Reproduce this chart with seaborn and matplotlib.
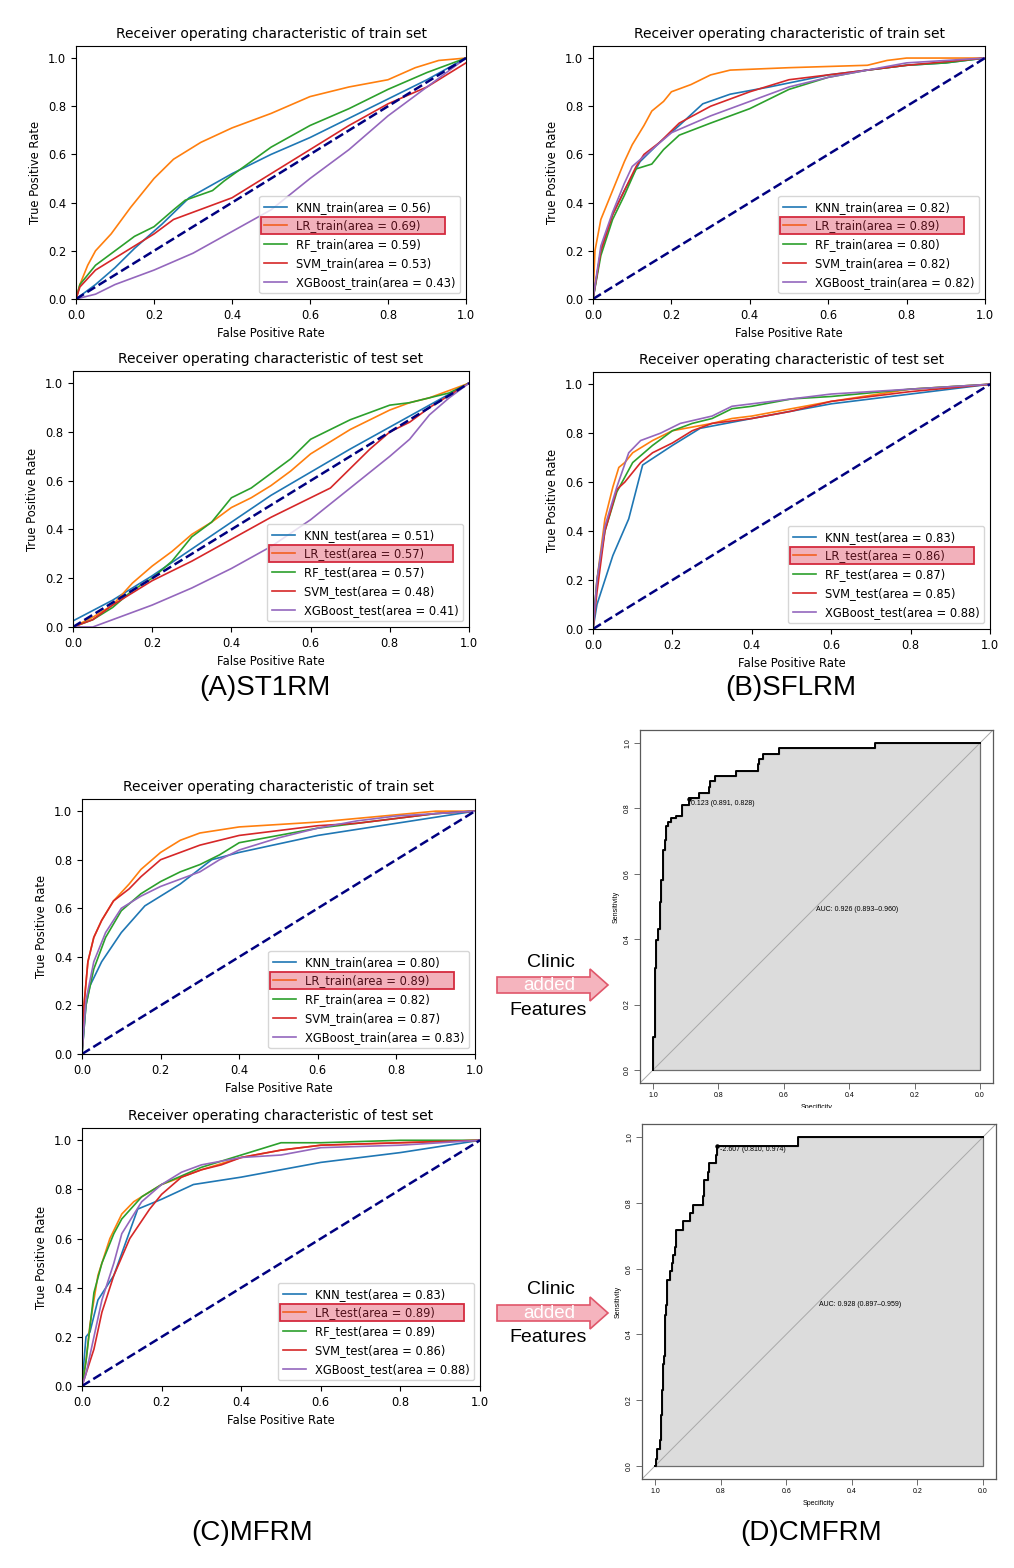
import pandas as pd
import seaborn as sns
import matplotlib.pyplot as plt
from matplotlib import patches
from matplotlib.transforms import Bbox

# ---- data ----
models = ['KNN', 'LR', 'RF', 'SVM', 'XGBoost']

auc_a_train = [0.56, 0.69, 0.59, 0.53, 0.43]
auc_a_test = [0.51, 0.57, 0.57, 0.48, 0.41]
auc_b_train = [0.82, 0.89, 0.80, 0.82, 0.82]
auc_b_test = [0.83, 0.86, 0.87, 0.85, 0.88]
auc_c_train = [0.80, 0.89, 0.82, 0.87, 0.83]
auc_c_test = [0.83, 0.89, 0.89, 0.86, 0.88]

# (A) train
a_train_knn_x = [0.0, 0.05, 0.10, 0.15, 0.22, 0.29, 0.40, 0.50, 0.60, 0.70, 0.80, 0.90, 1.0]
a_train_knn_y = [0.0, 0.06, 0.13, 0.21, 0.31, 0.42, 0.52, 0.60, 0.67, 0.75, 0.83, 0.91, 1.0]
a_train_lr_x = [0.0, 0.01, 0.03, 0.05, 0.09, 0.14, 0.20, 0.25, 0.32, 0.40, 0.50, 0.60, 0.70, 0.80, 0.87, 0.93, 1.0]
a_train_lr_y = [0.0, 0.06, 0.14, 0.20, 0.27, 0.38, 0.50, 0.58, 0.65, 0.71, 0.77, 0.84, 0.88, 0.91, 0.96, 0.99, 1.0]
a_train_rf_x = [0.0, 0.01, 0.05, 0.10, 0.15, 0.20, 0.25, 0.28, 0.35, 0.38, 0.50, 0.60, 0.70, 0.80, 0.90, 0.95, 1.0]
a_train_rf_y = [0.0, 0.06, 0.14, 0.20, 0.26, 0.30, 0.37, 0.41, 0.45, 0.49, 0.63, 0.72, 0.79, 0.87, 0.94, 0.97, 1.0]
a_train_svm_x = [0.0, 0.01, 0.05, 0.10, 0.15, 0.20, 0.25, 0.30, 0.40, 0.50, 0.60, 0.70, 0.80, 0.90, 0.97, 1.0]
a_train_svm_y = [0.0, 0.05, 0.12, 0.17, 0.22, 0.27, 0.33, 0.36, 0.42, 0.52, 0.62, 0.72, 0.81, 0.88, 0.95, 0.98]
a_train_xgb_x = [0.0, 0.05, 0.10, 0.20, 0.30, 0.40, 0.50, 0.60, 0.70, 0.80, 0.90, 1.0]
a_train_xgb_y = [0.0, 0.02, 0.06, 0.12, 0.19, 0.28, 0.37, 0.50, 0.62, 0.76, 0.88, 1.0]

# (A) test
a_test_knn_x = [0.0, 0.10, 0.20, 0.30, 0.40, 0.50, 0.60, 0.70, 0.80, 0.90, 1.0]
a_test_knn_y = [0.025, 0.11, 0.21, 0.32, 0.43, 0.54, 0.635, 0.73, 0.82, 0.91, 1.0]
a_test_lr_x = [0.0, 0.05, 0.10, 0.15, 0.20, 0.25, 0.30, 0.35, 0.40, 0.45, 0.50, 0.55, 0.60, 0.65, 0.70, 0.75, 0.80, 0.85, 0.90, 0.95, 1.0]
a_test_lr_y = [0.0, 0.04, 0.09, 0.18, 0.25, 0.31, 0.38, 0.43, 0.49, 0.53, 0.58, 0.64, 0.71, 0.76, 0.81, 0.85, 0.89, 0.92, 0.94, 0.97, 1.0]
a_test_rf_x = [0.0, 0.05, 0.10, 0.15, 0.20, 0.25, 0.30, 0.35, 0.40, 0.45, 0.50, 0.55, 0.60, 0.65, 0.70, 0.75, 0.80, 0.85, 0.90, 0.95, 1.0]
a_test_rf_y = [0.0, 0.03, 0.08, 0.15, 0.20, 0.27, 0.37, 0.43, 0.53, 0.57, 0.63, 0.69, 0.77, 0.81, 0.85, 0.88, 0.91, 0.92, 0.94, 0.96, 1.0]
a_test_svm_x = [0.0, 0.05, 0.10, 0.20, 0.30, 0.40, 0.50, 0.55, 0.60, 0.65, 0.70, 0.75, 0.80, 0.85, 0.90, 1.0]
a_test_svm_y = [0.0, 0.03, 0.09, 0.19, 0.27, 0.36, 0.45, 0.49, 0.53, 0.57, 0.65, 0.73, 0.80, 0.84, 0.90, 1.0]
a_test_xgb_x = [0.0, 0.05, 0.10, 0.20, 0.30, 0.40, 0.50, 0.60, 0.70, 0.80, 0.85, 0.90, 0.95, 1.0]
a_test_xgb_y = [0.0, 0.0, 0.03, 0.09, 0.16, 0.24, 0.33, 0.44, 0.57, 0.70, 0.77, 0.87, 0.94, 1.0]

# (B) train
b_train_knn_x = [0.0, 0.02, 0.05, 0.08, 0.12, 0.17, 0.22, 0.28, 0.35, 0.45, 0.60, 0.70, 0.80, 0.90, 1.0]
b_train_knn_y = [0.0, 0.20, 0.35, 0.45, 0.57, 0.65, 0.72, 0.81, 0.85, 0.88, 0.93, 0.95, 0.97, 0.98, 1.0]
b_train_lr_x = [0.0, 0.005, 0.02, 0.05, 0.08, 0.10, 0.13, 0.15, 0.18, 0.20, 0.25, 0.30, 0.35, 0.50, 0.70, 0.75, 0.80, 1.0]
b_train_lr_y = [0.0, 0.20, 0.33, 0.45, 0.57, 0.64, 0.72, 0.78, 0.82, 0.86, 0.89, 0.93, 0.95, 0.96, 0.97, 0.99, 1.0, 1.0]
b_train_rf_x = [0.0, 0.02, 0.05, 0.08, 0.11, 0.15, 0.18, 0.22, 0.30, 0.40, 0.50, 0.60, 0.70, 0.80, 0.90, 1.0]
b_train_rf_y = [0.0, 0.18, 0.33, 0.43, 0.54, 0.56, 0.62, 0.68, 0.73, 0.79, 0.87, 0.92, 0.95, 0.97, 0.98, 1.0]
b_train_svm_x = [0.0, 0.02, 0.05, 0.08, 0.11, 0.13, 0.17, 0.22, 0.30, 0.40, 0.50, 0.60, 0.70, 0.80, 1.0]
b_train_svm_y = [0.0, 0.20, 0.35, 0.45, 0.55, 0.60, 0.65, 0.73, 0.80, 0.86, 0.91, 0.93, 0.95, 0.97, 1.0]
b_train_xgb_x = [0.0, 0.02, 0.05, 0.08, 0.10, 0.15, 0.20, 0.30, 0.40, 0.50, 0.60, 0.70, 0.80, 0.90, 1.0]
b_train_xgb_y = [0.0, 0.22, 0.36, 0.48, 0.55, 0.62, 0.69, 0.76, 0.82, 0.88, 0.92, 0.95, 0.98, 0.99, 1.0]

# (B) test
b_test_knn_x = [0.0, 0.01, 0.05, 0.09, 0.125, 0.20, 0.27, 0.40, 0.60, 0.80, 1.0]
b_test_knn_y = [0.0, 0.10, 0.30, 0.45, 0.67, 0.75, 0.82, 0.86, 0.92, 0.96, 1.0]
b_test_lr_x = [0.0, 0.01, 0.03, 0.05, 0.065, 0.08, 0.10, 0.15, 0.20, 0.30, 0.35, 0.40, 0.60, 0.80, 1.0]
b_test_lr_y = [0.0, 0.20, 0.45, 0.58, 0.66, 0.68, 0.72, 0.77, 0.81, 0.84, 0.86, 0.87, 0.93, 0.98, 1.0]
b_test_rf_x = [0.0, 0.01, 0.03, 0.06, 0.08, 0.10, 0.15, 0.20, 0.25, 0.30, 0.35, 0.40, 0.50, 0.60, 0.80, 1.0]
b_test_rf_y = [0.0, 0.20, 0.40, 0.56, 0.62, 0.68, 0.75, 0.81, 0.84, 0.86, 0.90, 0.91, 0.94, 0.95, 0.98, 1.0]
b_test_svm_x = [0.0, 0.01, 0.03, 0.06, 0.08, 0.12, 0.15, 0.20, 0.25, 0.30, 0.40, 0.50, 0.60, 0.80, 1.0]
b_test_svm_y = [0.0, 0.15, 0.40, 0.57, 0.60, 0.68, 0.72, 0.76, 0.81, 0.84, 0.86, 0.89, 0.93, 0.97, 1.0]
b_test_xgb_x = [0.0, 0.01, 0.03, 0.06, 0.09, 0.12, 0.17, 0.22, 0.30, 0.35, 0.45, 0.60, 0.80, 1.0]
b_test_xgb_y = [0.0, 0.20, 0.42, 0.58, 0.72, 0.77, 0.80, 0.84, 0.87, 0.91, 0.93, 0.96, 0.98, 1.0]

# (C) train
c_train_knn_x = [0.0, 0.01, 0.02, 0.05, 0.10, 0.16, 0.25, 0.33, 0.40, 0.60, 0.80, 1.0]
c_train_knn_y = [0.0, 0.20, 0.28, 0.38, 0.50, 0.61, 0.70, 0.80, 0.83, 0.90, 0.95, 1.0]
c_train_lr_x = [0.0, 0.005, 0.015, 0.03, 0.05, 0.08, 0.12, 0.15, 0.20, 0.25, 0.30, 0.40, 0.50, 0.60, 0.70, 0.80, 0.90, 1.0]
c_train_lr_y = [0.0, 0.20, 0.38, 0.48, 0.55, 0.63, 0.70, 0.76, 0.83, 0.88, 0.91, 0.935, 0.945, 0.955, 0.97, 0.985, 1.0, 1.0]
c_train_rf_x = [0.0, 0.01, 0.03, 0.06, 0.10, 0.15, 0.20, 0.25, 0.30, 0.35, 0.40, 0.50, 0.60, 0.70, 0.80, 0.90, 1.0]
c_train_rf_y = [0.0, 0.20, 0.35, 0.48, 0.59, 0.66, 0.71, 0.75, 0.78, 0.82, 0.87, 0.90, 0.93, 0.95, 0.97, 0.99, 1.0]
c_train_svm_x = [0.0, 0.005, 0.015, 0.03, 0.05, 0.08, 0.12, 0.15, 0.20, 0.25, 0.30, 0.40, 0.50, 0.60, 0.70, 0.80, 0.90, 1.0]
c_train_svm_y = [0.0, 0.20, 0.38, 0.48, 0.55, 0.63, 0.68, 0.73, 0.80, 0.83, 0.86, 0.90, 0.92, 0.94, 0.95, 0.97, 0.99, 1.0]
c_train_xgb_x = [0.0, 0.01, 0.03, 0.06, 0.10, 0.15, 0.20, 0.30, 0.35, 0.40, 0.50, 0.60, 0.70, 0.80, 0.90, 1.0]
c_train_xgb_y = [0.0, 0.22, 0.38, 0.50, 0.60, 0.65, 0.69, 0.75, 0.80, 0.84, 0.89, 0.93, 0.96, 0.98, 0.99, 1.0]

# (C) test
c_test_knn_x = [0.0, 0.01, 0.02, 0.04, 0.08, 0.14, 0.20, 0.28, 0.40, 0.50, 0.60, 0.80, 1.0]
c_test_knn_y = [0.0, 0.20, 0.22, 0.35, 0.45, 0.72, 0.76, 0.82, 0.85, 0.88, 0.91, 0.95, 1.0]
c_test_lr_x = [0.0, 0.01, 0.02, 0.04, 0.07, 0.10, 0.13, 0.20, 0.30, 0.40, 0.50, 0.60, 0.80, 1.0]
c_test_lr_y = [0.0, 0.10, 0.25, 0.45, 0.60, 0.70, 0.75, 0.82, 0.88, 0.93, 0.96, 0.98, 0.99, 1.0]
c_test_rf_x = [0.0, 0.01, 0.03, 0.05, 0.08, 0.10, 0.15, 0.20, 0.30, 0.40, 0.50, 0.60, 0.80, 1.0]
c_test_rf_y = [0.0, 0.10, 0.38, 0.50, 0.62, 0.68, 0.77, 0.82, 0.89, 0.94, 0.99, 0.99, 1.0, 1.0]
c_test_svm_x = [0.0, 0.01, 0.03, 0.05, 0.08, 0.12, 0.17, 0.20, 0.25, 0.30, 0.35, 0.40, 0.50, 0.60, 0.80, 1.0]
c_test_svm_y = [0.0, 0.05, 0.15, 0.30, 0.45, 0.60, 0.72, 0.78, 0.85, 0.88, 0.90, 0.93, 0.96, 0.98, 0.99, 1.0]
c_test_xgb_x = [0.0, 0.01, 0.03, 0.05, 0.08, 0.10, 0.15, 0.20, 0.25, 0.30, 0.40, 0.50, 0.60, 0.80, 1.0]
c_test_xgb_y = [0.0, 0.05, 0.20, 0.35, 0.50, 0.62, 0.75, 0.82, 0.87, 0.90, 0.93, 0.94, 0.97, 0.98, 1.0]

# (D) pROC curves: specificity / sensitivity at each step
d_top_spec = [1.0, 1.0, 0.995, 0.99, 0.985, 0.98, 0.975, 0.97, 0.965, 0.96, 0.955, 0.945,
              0.93, 0.91, 0.89, 0.86, 0.83, 0.825, 0.81, 0.745, 0.68, 0.675, 0.665, 0.615, 0.32, 0.0]
d_top_sens = [0.0, 0.102, 0.311, 0.398, 0.43, 0.515, 0.58, 0.673, 0.704, 0.745, 0.76, 0.77,
              0.776, 0.811, 0.832, 0.847, 0.865, 0.883, 0.898, 0.916, 0.935, 0.951, 0.966, 0.985, 1.0, 1.0]
d_top_thr = (0.891, 0.828)
d_top_thr_label = '0.123 (0.891, 0.828)'
d_top_auc_label = 'AUC: 0.926 (0.893\u20130.960)'

d_bot_spec = [1.0, 0.998, 0.995, 0.985, 0.982, 0.98, 0.975, 0.972, 0.97, 0.967, 0.965, 0.955,
              0.95, 0.945, 0.94, 0.935, 0.915, 0.895, 0.885, 0.855, 0.85, 0.84, 0.835, 0.815,
              0.81, 0.565, 0.0]
d_bot_sens = [0.0, 0.02, 0.051, 0.079, 0.155, 0.231, 0.31, 0.335, 0.46, 0.49, 0.564, 0.592,
              0.617, 0.641, 0.666, 0.719, 0.744, 0.77, 0.795, 0.82, 0.871, 0.895, 0.922, 0.947,
              0.974, 1.0, 1.0]
d_bot_thr = (0.810, 0.974)
d_bot_thr_label = '-2.607 (0.810, 0.974)'
d_bot_auc_label = 'AUC: 0.928 (0.897\u20130.959)'

panel_labels = ['(A)ST1RM', '(B)SFLRM', '(C)MFRM', '(D)CMFRM']

colors = ['#1f77b4', '#ff7f0e', '#2ca02c', '#d62728', '#9467bd']

W, H = 1014, 1568
fig = plt.figure(figsize=(W / 100, H / 100), dpi=100)


def px_axes(l, r, t, b):
    return fig.add_axes([l / W, 1 - b / H, (r - l) / W, (b - t) / H])


def roc_panel(ax, curves, aucs, split):
    labels = [f'{m}_{split}(area = {a:.2f})' for m, a in zip(models, aucs)]
    frames = [pd.DataFrame({'fpr': x, 'tpr': y, 'label': lab})
              for (x, y), lab in zip(curves, labels)]
    df = pd.concat(frames, ignore_index=True)
    sns.lineplot(data=df, x='fpr', y='tpr', hue='label', hue_order=labels,
                 palette=colors, sort=False, estimator=None, lw=1.2,
                 ax=ax, legend=False)
    ax.plot([0, 1], [0, 1], color='navy', lw=1.8, ls='--')
    ax.set_xlim(0.0, 1.0)
    ax.set_ylim(0.0, 1.05)
    ax.set_xlabel('False Positive Rate', fontsize=8.3)
    ax.set_ylabel('True Positive Rate', fontsize=8.3)
    ax.set_title(f'Receiver operating characteristic of {split} set', fontsize=10)
    ax.tick_params(labelsize=8.3)
    leg = ax.legend(ax.get_lines()[:5], labels, loc='lower right', fontsize=8.3)
    return leg


def r_roc_panel(ax, spec, sens, thr, thr_label, auc_label):
    ax.fill_between(spec, sens, 0, step='post', facecolor='gainsboro',
                    edgecolor='#6e6e6e', lw=0.9)
    ax.axline((1, 0), (0, 1), color='darkgrey', lw=0.7)
    sns.lineplot(x=spec, y=sens, sort=False, estimator=None,
                 drawstyle='steps-post', color='black', lw=1.4, ax=ax)
    ax.plot(*thr, 'o', ms=2.2, color='black')
    ax.annotate(thr_label, xy=thr, xytext=(2, -3), textcoords='offset points',
                fontsize=5, ha='left', va='center', family='Liberation Sans')
    ax.text(0.5, 0.49, auc_label, fontsize=5, ha='left', va='center',
            family='Liberation Sans')
    ax.set_xlim(1.04, -0.04)
    ax.set_ylim(-0.04, 1.04)
    ticks = [0.0, 0.2, 0.4, 0.6, 0.8, 1.0]
    ax.set_xticks(ticks)
    ax.set_xticklabels([f'{t:.1f}' for t in ticks], family='Liberation Sans')
    ax.set_yticks(ticks)
    ax.set_yticklabels([f'{t:.1f}' for t in ticks], rotation=90, va='center',
                       family='Liberation Sans')
    ax.tick_params(labelsize=5, length=4, width=0.6, pad=2.5, color='#555555')
    for s in ax.spines.values():
        s.set_color('#5a5a5a')
        s.set_linewidth(0.9)
    ax.set_xlabel('Specificity', fontsize=5, labelpad=3.5, family='Liberation Sans')
    ax.set_ylabel('Sensitivity', fontsize=5, labelpad=3, family='Liberation Sans')


legends = []
ax = px_axes(76, 466, 46, 299)
legends.append(roc_panel(ax, [(a_train_knn_x, a_train_knn_y), (a_train_lr_x, a_train_lr_y),
                              (a_train_rf_x, a_train_rf_y), (a_train_svm_x, a_train_svm_y),
                              (a_train_xgb_x, a_train_xgb_y)], auc_a_train, 'train'))
ax = px_axes(73, 469, 371, 627)
legends.append(roc_panel(ax, [(a_test_knn_x, a_test_knn_y), (a_test_lr_x, a_test_lr_y),
                              (a_test_rf_x, a_test_rf_y), (a_test_svm_x, a_test_svm_y),
                              (a_test_xgb_x, a_test_xgb_y)], auc_a_test, 'test'))
ax = px_axes(593, 985, 46, 299)
legends.append(roc_panel(ax, [(b_train_knn_x, b_train_knn_y), (b_train_lr_x, b_train_lr_y),
                              (b_train_rf_x, b_train_rf_y), (b_train_svm_x, b_train_svm_y),
                              (b_train_xgb_x, b_train_xgb_y)], auc_b_train, 'train'))
ax = px_axes(593, 990, 372, 629)
legends.append(roc_panel(ax, [(b_test_knn_x, b_test_knn_y), (b_test_lr_x, b_test_lr_y),
                              (b_test_rf_x, b_test_rf_y), (b_test_svm_x, b_test_svm_y),
                              (b_test_xgb_x, b_test_xgb_y)], auc_b_test, 'test'))
ax = px_axes(82, 475, 799, 1054)
legends.append(roc_panel(ax, [(c_train_knn_x, c_train_knn_y), (c_train_lr_x, c_train_lr_y),
                              (c_train_rf_x, c_train_rf_y), (c_train_svm_x, c_train_svm_y),
                              (c_train_xgb_x, c_train_xgb_y)], auc_c_train, 'train'))
ax = px_axes(82, 480, 1128, 1386)
legends.append(roc_panel(ax, [(c_test_knn_x, c_test_knn_y), (c_test_lr_x, c_test_lr_y),
                              (c_test_rf_x, c_test_rf_y), (c_test_svm_x, c_test_svm_y),
                              (c_test_xgb_x, c_test_xgb_y)], auc_c_test, 'test'))

ax_d1 = px_axes(640, 993, 730, 1083)
r_roc_panel(ax_d1, d_top_spec, d_top_sens, d_top_thr, d_top_thr_label, d_top_auc_label)
# the source image is cropped just under the top panel's x label
ax_d1.xaxis.label.set_clip_box(Bbox([[0, H - 1108], [W, H]]))
ax_d1.xaxis.label.set_clip_on(True)

ax_d2 = px_axes(642, 996, 1124, 1479)
r_roc_panel(ax_d2, d_bot_spec, d_bot_sens, d_bot_thr, d_bot_thr_label, d_bot_auc_label)

# overlay in pixel coordinates for arrows and panel labels
ov = fig.add_axes([0, 0, 1, 1])
ov.set_xlim(0, W)
ov.set_ylim(H, 0)
ov.axis('off')
ov.patch.set_alpha(0)

for yc in [985, 1313]:
    ov.add_patch(patches.FancyArrow(497, yc, 111, 0, width=16, head_width=32,
                                    head_length=18, length_includes_head=True,
                                    facecolor='#f5b4be', edgecolor='#e0566a', lw=1.2))
    ov.text(551, yc - 23, 'Clinic', ha='center', va='center', fontsize=14,
            family='Liberation Sans')
    ov.text(549, yc, 'added', ha='center', va='center', fontsize=13.5,
            color='white', family='Liberation Sans')
    ov.text(548, yc + 25, 'Features', ha='center', va='center', fontsize=14,
            family='Liberation Sans')

for lab, (x, y) in zip(panel_labels, [(265, 688), (791, 688), (252, 1533), (811, 1533)]):
    ov.text(x, y, lab, ha='center', va='center', fontsize=20, family='Liberation Sans')

# red highlight around the LR legend entry
fig.canvas.draw()
renderer = fig.canvas.get_renderer()
inv = fig.transFigure.inverted()
for leg in legends:
    bl = leg.get_lines()[1].get_window_extent(renderer)
    bt = leg.get_texts()[1].get_window_extent(renderer)
    x0 = bl.x0 - 3
    yc = (bt.y0 + bt.y1) / 2
    (fx0, fy0), (fx1, fy1) = inv.transform([(x0, yc - 8.5), (x0 + 184, yc + 8.5)])
    fig.add_artist(patches.Rectangle((fx0, fy0), fx1 - fx0, fy1 - fy0,
                                     transform=fig.transFigure,
                                     facecolor=(0.86, 0.16, 0.27, 0.36),
                                     edgecolor='#d42a3e', lw=1.3, zorder=10))

fig.savefig('out.png', dpi=100)
